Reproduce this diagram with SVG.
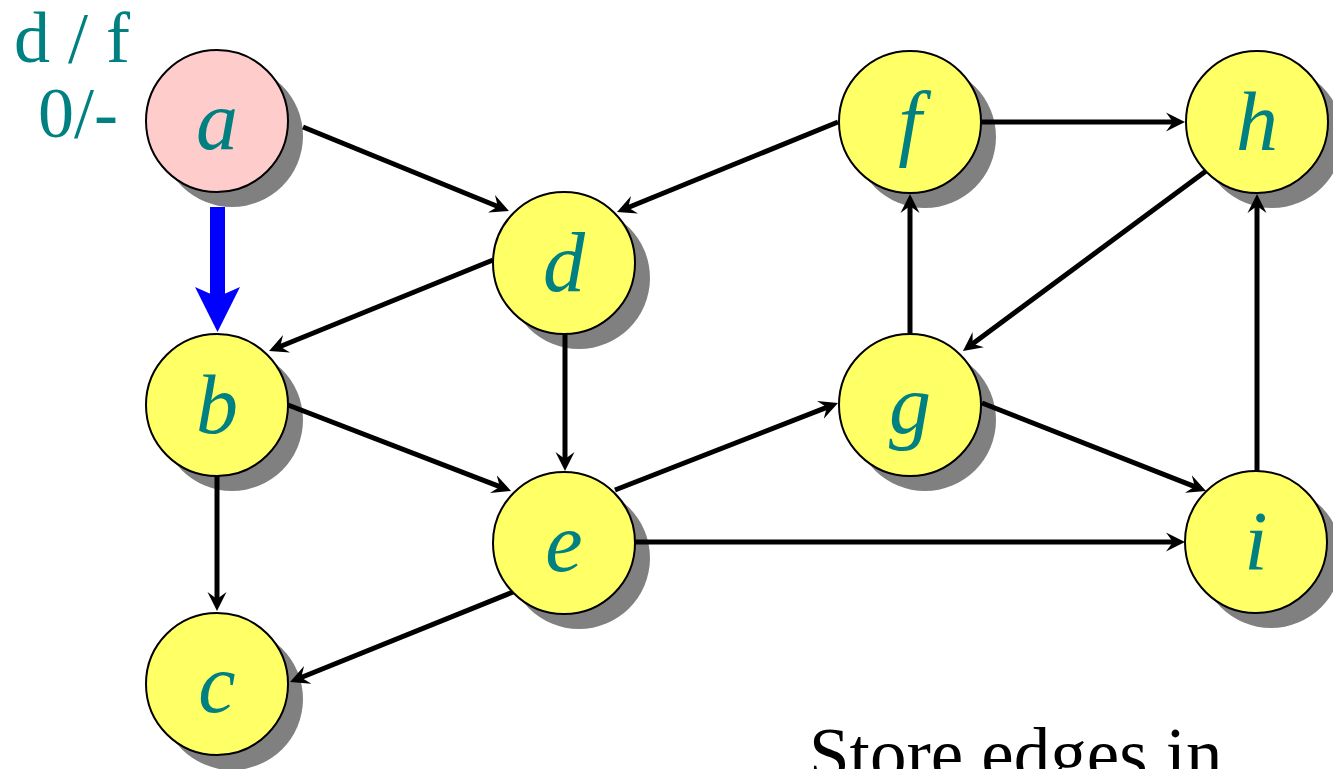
<svg xmlns="http://www.w3.org/2000/svg" width="1333" height="769" viewBox="0 0 1333 769">
<style>
.sh{fill:#808080}
.nd{fill:#FFFF66;stroke:#000;stroke-width:2}
.nd.start{fill:#FFCCCC}
.lb{font-family:"Liberation Serif","Times New Roman",serif;font-style:italic;font-size:84px;fill:#008080;text-anchor:middle}
.e{stroke:#000;stroke-width:5;fill:none;marker-end:url(#ah)}
.tt{font-family:"Liberation Serif","Times New Roman",serif;font-size:72px;fill:#008080}
.bt{font-family:"Liberation Serif","Times New Roman",serif;font-size:73px;fill:#000}
</style>
<defs>
<marker id="ah" viewBox="0 -10 19 20" refX="9" refY="0" markerWidth="19" markerHeight="20" markerUnits="userSpaceOnUse" orient="auto">
<path d="M19,0 L0,-9.5 L7,0 L0,9.5 Z" fill="#000"/>
</marker>
</defs>
<rect width="1333" height="769" fill="#fff"/>
<g id="shadows">
<circle class="sh" cx="232" cy="136" r="71"/>
<circle class="sh" cx="579" cy="278" r="71"/>
<circle class="sh" cx="925" cy="137" r="71"/>
<circle class="sh" cx="1272" cy="137" r="71"/>
<circle class="sh" cx="232" cy="420" r="71"/>
<circle class="sh" cx="925" cy="420" r="71"/>
<circle class="sh" cx="579" cy="558" r="71"/>
<circle class="sh" cx="1271" cy="557" r="71"/>
<circle class="sh" cx="232" cy="699" r="71"/>
</g>
<g id="connectors">
<path class="e" d="M303,127 L499.7,207.2"/>
<path class="e" d="M838,122 L626.3,208.2"/>
<path class="e" d="M982,122 L1175,122"/>
<path class="e" d="M493,260 L278.3,347.2"/>
<path class="e" d="M565,333 L565,461"/>
<path class="e" d="M1206,171 L971,345"/>
<path class="e" d="M910,333 L910,204"/>
<path class="e" d="M1257,471 L1257,204"/>
<path class="e" d="M288,405 L501.7,487.4"/>
<path class="e" d="M615,490 L828.7,406.6"/>
<path class="e" d="M982,403 L1196.7,487.3"/>
<path class="e" d="M635,542 L1175,542"/>
<path class="e" d="M217,476 L217,601"/>
<path class="e" d="M513,592 L299.3,678.3"/>
<g id="tree-edge-ab" fill="#0000FF">
<rect x="210" y="207" width="15" height="91"/>
<polygon points="195,287 217.5,332 240,287 217.5,297"/>
</g>
</g>
<g id="node-a"><circle class="nd start" cx="217" cy="121" r="71"/><text class="lb" x="217" y="149">a</text></g>
<g id="node-d"><circle class="nd" cx="564" cy="263" r="71"/><text class="lb" x="564" y="291">d</text></g>
<g id="node-f"><circle class="nd" cx="910" cy="122" r="71"/><text class="lb" x="910" y="150">f</text></g>
<g id="node-h"><circle class="nd" cx="1257" cy="122" r="71"/><text class="lb" x="1257" y="150">h</text></g>
<g id="node-b"><circle class="nd" cx="217" cy="405" r="71"/><text class="lb" x="217" y="433">b</text></g>
<g id="node-g"><circle class="nd" cx="910" cy="405" r="71"/><text class="lb" x="910" y="433">g</text></g>
<g id="node-e"><circle class="nd" cx="564" cy="543" r="71"/><text class="lb" x="564" y="571">e</text></g>
<g id="node-i"><circle class="nd" cx="1256" cy="542" r="71"/><text class="lb" x="1256" y="570">i</text></g>
<g id="node-c"><circle class="nd" cx="217" cy="684" r="71"/><text class="lb" x="217" y="712">c</text></g>
<g id="labels">
<text class="tt" x="14" y="62">d / f</text>
<text class="tt" x="38" y="137">0/-</text>
<text class="bt" x="809" y="779">Store edges in</text>
</g>
</svg>
